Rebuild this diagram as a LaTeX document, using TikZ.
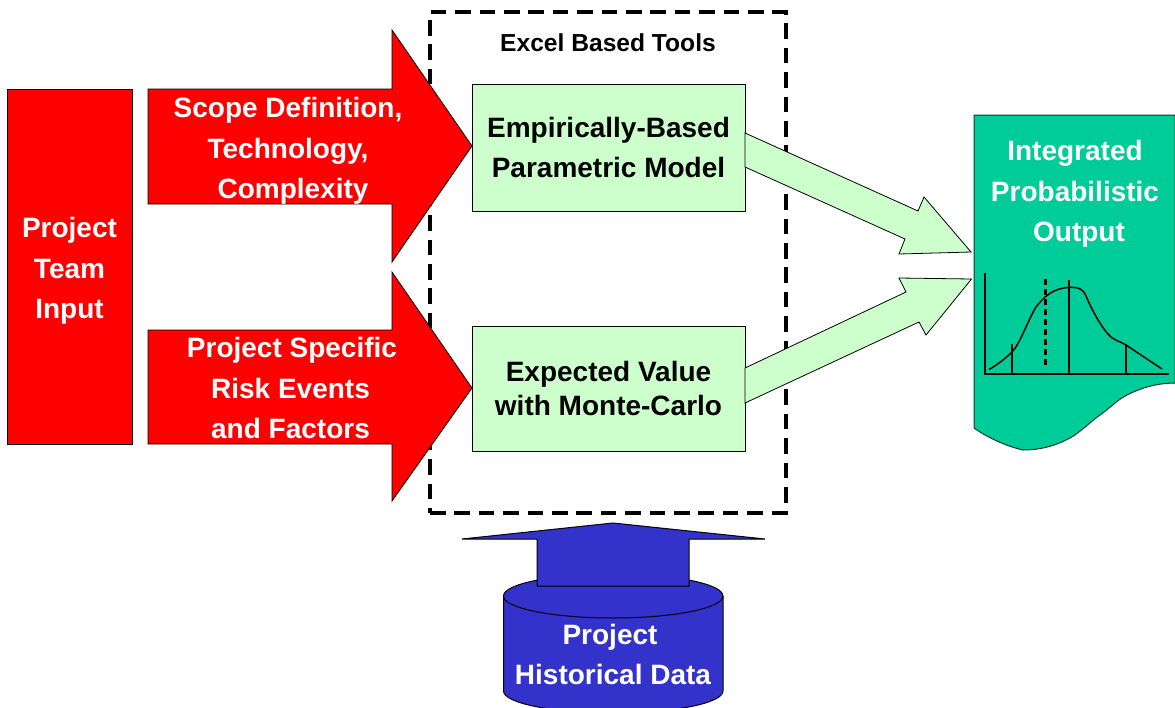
\documentclass[tikz,border=0pt]{standalone}
\usepackage{fontspec}
\setmainfont{Liberation Sans}
\definecolor{redfill}{RGB}{255,0,0}
\definecolor{palegreen}{RGB}{204,255,204}
\definecolor{seagreen}{RGB}{0,204,153}
\definecolor{bluefill}{RGB}{51,51,204}
\tikzset{
  every node/.style={outer sep=0pt},
  boxlabel/.style={font=\bfseries\fontsize{28}{40.3}\selectfont,align=center,inner sep=0pt},
  whitelabel/.style={boxlabel,text=white},
  redshape/.style={draw=black,fill=redfill,line width=0.8pt,line join=miter},
  greenshape/.style={draw=black,fill=palegreen,line width=0.8pt,line join=miter},
  blueshape/.style={draw=black,fill=bluefill,line width=1pt,line join=miter},
  tealshape/.style={draw=black!70!seagreen,fill=seagreen,line width=1pt},
  chartline/.style={draw=black,line width=1.5pt},
  toolframe/.style={draw=black,line width=4pt,dash pattern=on 15.6pt off 8.8pt}
}
\begin{document}
\begin{tikzpicture}[x=1pt,y=-1pt]
\useasboundingbox (0,0) rectangle (1175,707);
% frame
\node[toolframe,minimum width=355.5pt,minimum height=501pt,inner sep=0pt,anchor=north west] (frame) at (430,12) {};
\node[font=\bfseries\fontsize{24.6}{26}\selectfont,inner sep=0pt] (frametitle) at (608,43) {Excel Based Tools};
% boxes
\node[greenshape,minimum width=273pt,minimum height=127pt,inner sep=0pt,anchor=north west] (emp) at (472,84) {};
\node[greenshape,minimum width=273pt,minimum height=125pt,inner sep=0pt,anchor=north west] (evm) at (472,326) {};
\node[redshape,minimum width=125pt,minimum height=355pt,inner sep=0pt,anchor=north west] (team) at (7,89) {};
\node[boxlabel] (emplabel) at ([yshift=-2pt]emp.center) {\strut Empirically-Based\\\strut Parametric Model};
\node[boxlabel,font=\bfseries\fontsize{28}{34}\selectfont] (evmlabel) at ([yshift=-3.5pt]evm.center) {\strut Expected Value\\\strut with Monte-Carlo};
\node[whitelabel] (teamlabel) at ([yshift=-3.5pt]team.center) {\strut Project\\\strut Team\\\strut Input};
% output document
\draw[tealshape] (974,115) -- (1175,115) -- (1175,383) .. controls (1168,383) and (1160,384) .. (1155,385)
  .. controls (1145,387) and (1135,391) .. (1127,395) .. controls (1117,400) and (1110,408) .. (1100,415)
  .. controls (1090,422) and (1082,431) .. (1070,438) .. controls (1055,446) and (1040,450) .. (1023,450)
  .. controls (1005,446) and (985,436) .. (974,428) -- cycle;
\coordinate (outtipa) at (971,252);
\coordinate (outtipb) at (971.5,279);
% green arrows
\draw[greenshape] ([yshift=14.5pt]emp.east) -- (918,211) -- (924,197) -- (outtipa) -- (899,254) -- (905,239) -- ([yshift=-19.5pt]emp.east) -- cycle;
\draw[greenshape] ([yshift=20.5pt]evm.east) -- (906,292) -- (899,278) -- (outtipb) -- (926,335) -- (919,322) -- ([yshift=-14.5pt]evm.east) -- cycle;
% red arrows
\draw[redshape] ([yshift=58.5pt,xshift=-324pt]emp.west) -- ([yshift=58.5pt,xshift=-80pt]emp.west) -- ([yshift=117.5pt,xshift=-80pt]emp.west) -- ([yshift=1.5pt]emp.west) -- ([yshift=-114.5pt,xshift=-80pt]emp.west) -- ([yshift=-56.5pt,xshift=-80pt]emp.west) -- ([yshift=-56.5pt,xshift=-324pt]emp.west) -- cycle;
\draw[redshape] ([yshift=58.5pt,xshift=-324pt]evm.west) -- ([yshift=58.5pt,xshift=-80pt]evm.west) -- ([yshift=116.5pt,xshift=-80pt]evm.west) -- ([yshift=0.5pt]evm.west) -- ([yshift=-112.5pt,xshift=-80pt]evm.west) -- ([yshift=-55.5pt,xshift=-80pt]evm.west) -- ([yshift=-55.5pt,xshift=-324pt]evm.west) -- cycle;
\node[whitelabel] (scope) at (288,150) {\strut Scope Definition,\\\strut Technology,\\\strut\hspace*{10pt}Complexity};
\node[whitelabel] (risk) at (292,390) {\strut Project Specific\\\strut\hspace*{-3pt}Risk Events\\\strut\hspace*{-3pt}and Factors};
% cylinder
\draw[blueshape] (503.5,596) -- (503.5,691) arc[start angle=180,end angle=360,x radius=109.75pt,y radius=22pt] -- (723,596) arc[start angle=0,end angle=180,x radius=109.75pt,y radius=22pt] -- cycle;
\draw[blueshape] (503.5,596) arc[start angle=180,end angle=360,x radius=109.75pt,y radius=22pt];
\node[whitelabel] (hist) at (613,656.5) {\strut\hspace*{-6pt}Project\\\strut Historical Data};
% blue arrow
\draw[blueshape] (537,586) -- (537,539) -- (462,539) -- (613,523) -- (765,539) -- (689,539) -- (689,586) -- cycle;
% output text
\node[whitelabel] (outlabel) at (1075,193) {\strut Integrated\\\strut Probabilistic\\\strut\hspace*{8pt}Output};
% chart
\draw[chartline] (985,273) -- (985,374) -- (1169,374);
\draw[chartline] (1012,344) -- (1012,374);
\draw[chartline] (1069,280) -- (1069,374);
\draw[chartline] (1126,344) -- (1126,374);
\draw[black,line width=2.2pt,dash pattern=on 6pt off 4pt] (1045.5,279) -- (1045.5,369);
\draw[chartline,line join=round] (989,369.5) .. controls (997,365) and (1006,358) .. (1012,352) .. controls (1020,344) and (1028,320) .. (1036,307) .. controls (1044,297) and (1053,288) .. (1069,287.5) .. controls (1079,287) and (1083,289) .. (1086,296) .. controls (1092,310) and (1100,325) .. (1108,334) .. controls (1114,341) and (1120,341) .. (1126,345) -- (1162,369);
\end{tikzpicture}
\end{document}
